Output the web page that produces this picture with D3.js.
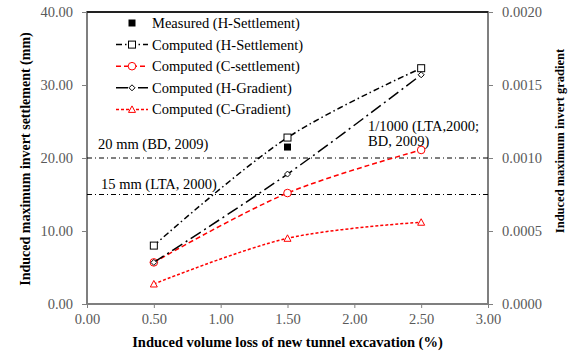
<!DOCTYPE html>
<html>
  <head>
    <meta charset="utf-8">
    <title>Invert settlement vs volume loss</title>
    <script src="https://cdn.jsdelivr.net/npm/d3@7"></script>
    <style>
      body { margin: 0; background: #fff; }
      text { font-family: "Liberation Serif", "Times New Roman", serif; }
      .tick text { fill: #595959; font-size: 14.5px; }
      .axisTitle { font-weight: bold; font-size: 14.5px; fill: #000; }
      .note { font-size: 14.5px; fill: #000; }
      .legendText { font-size: 14.5px; fill: #000; }
    </style>
  </head>
  <body>
    <svg id="chart" width="573" height="354"></svg>
    <script>
      // data
      volumeLoss = [0.5, 1.5, 2.5];
      measuredH = [[1.5, 21.5]];
      computedHSettlement = [8.0, 22.8, 32.3];
      computedCSettlement = [5.7, 15.2, 21.1];
      computedHGradient = [0.000285, 0.00089, 0.00157];
      computedCGradient = [0.000137, 0.00045, 0.00056];
      xTicks = [0, 0.5, 1, 1.5, 2, 2.5, 3];
      yTicks = [0, 10, 20, 30, 40];
      y2Ticks = [0, 0.0005, 0.001, 0.0015, 0.002];
      limits = [
        { value: 20, label: "20 mm (BD, 2009)" },
        { value: 15, label: "15 mm (LTA, 2000)" }
      ];

      svg = d3.select("#chart");
      margin = { top: 12, right: 85, bottom: 50, left: 87 };
      width = 573 - margin.left - margin.right;
      height = 354 - margin.top - margin.bottom;

      x = d3.scaleLinear().domain([0, 3]).range([margin.left, margin.left + width]);
      y = d3.scaleLinear().domain([0, 40]).range([margin.top + height, margin.top]);
      y2 = d3.scaleLinear().domain([0, 0.002]).range([margin.top + height, margin.top]);

      // axes
      xAxis = svg.append("g")
        .attr("transform", "translate(0," + (margin.top + height) + ")")
        .call(d3.axisBottom(x).tickValues(xTicks).tickFormat(d3.format(".2f")).tickSize(4).tickPadding(6));
      yAxis = svg.append("g")
        .attr("transform", "translate(" + margin.left + ",0)")
        .call(d3.axisLeft(y).tickValues(yTicks).tickFormat(d3.format(".2f")).tickSize(5).tickPadding(9));
      y2Axis = svg.append("g")
        .attr("transform", "translate(" + (margin.left + width) + ",0)")
        .call(d3.axisRight(y2).tickValues(y2Ticks).tickFormat(d3.format(".4f")).tickSize(5).tickPadding(9));
      svg.selectAll(".domain").remove();
      svg.selectAll(".tick line").attr("stroke", "#808080");

      // frame
      svg.append("rect")
        .attr("x", margin.left).attr("y", margin.top)
        .attr("width", width).attr("height", height)
        .attr("fill", "none").attr("stroke", "#7f7f7f").attr("stroke-width", 2);
      svg.append("line")
        .attr("x1", margin.left).attr("x2", margin.left + width)
        .attr("y1", margin.top).attr("y2", margin.top)
        .attr("stroke", "#222").attr("stroke-width", 2);

      // limit lines
      limits.forEach(function(d) {
        svg.append("line")
          .attr("x1", margin.left).attr("x2", margin.left + width)
          .attr("y1", y(d.value)).attr("y2", y(d.value))
          .attr("stroke", "#000").attr("stroke-width", 1)
          .attr("stroke-dasharray", "5,3,1,3");
      });
      svg.append("text").attr("class", "note").attr("x", 98).attr("y", y(20) - 9).text(limits[0].label);
      svg.append("text").attr("class", "note").attr("x", 101).attr("y", y(15) - 6).text(limits[1].label);
      svg.append("text").attr("class", "note").attr("x", 368).attr("y", 131).text("1/1000 (LTA,2000;");
      svg.append("text").attr("class", "note").attr("x", 368).attr("y", 146).text("BD, 2009)");

      // series
      series = [
        { name: "Measured (H-Settlement)", values: measuredH, color: "#000", dash: null, noLine: true, marker: "filledSquare" },
        { name: "Computed (H-Settlement)", values: computedHSettlement.map(function(v, i) { return [volumeLoss[i], v]; }), color: "#000", dash: "6,3,1.5,3", marker: "square" },
        { name: "Computed (C-settlement)", values: computedCSettlement.map(function(v, i) { return [volumeLoss[i], v]; }), color: "#ff0000", dash: "5,3", marker: "circle" },
        { name: "Computed (H-Gradient)", values: computedHGradient.map(function(v, i) { return [volumeLoss[i], v]; }), color: "#000", dash: "12,4,2,4", marker: "diamond", right: true },
        { name: "Computed (C-Gradient)", values: computedCGradient.map(function(v, i) { return [volumeLoss[i], v]; }), color: "#ff0000", dash: "3,2", marker: "triangle", right: true }
      ];

      line = d3.line().curve(d3.curveCatmullRom.alpha(0.5));

      function drawMarker(g, type, cx, cy, color) {
        if (type == "filledSquare") {
          g.append("rect").attr("x", cx - 3.5).attr("y", cy - 3.5).attr("width", 7).attr("height", 7).attr("fill", "#000");
        } else if (type == "square") {
          g.append("rect").attr("x", cx - 3.5).attr("y", cy - 3.5).attr("width", 7).attr("height", 7)
            .attr("fill", "#fff").attr("stroke", color).attr("stroke-width", 1);
        } else if (type == "circle") {
          g.append("circle").attr("cx", cx).attr("cy", cy).attr("r", 3.8)
            .attr("fill", "#fff").attr("stroke", color).attr("stroke-width", 1);
        } else if (type == "diamond") {
          g.append("path").attr("d", "M" + cx + "," + (cy - 3) + "L" + (cx + 3) + "," + cy + "L" + cx + "," + (cy + 3) + "L" + (cx - 3) + "," + cy + "Z")
            .attr("fill", "#fff").attr("stroke", color).attr("stroke-width", 1);
        } else if (type == "triangle") {
          g.append("path").attr("d", "M" + cx + "," + (cy - 3.5) + "L" + (cx + 3.5) + "," + (cy + 3) + "L" + (cx - 3.5) + "," + (cy + 3) + "Z")
            .attr("fill", "#fff").attr("stroke", color).attr("stroke-width", 1);
        }
      }

      series.forEach(function(s) {
        yScale = s.right ? y2 : y;
        pts = s.values.map(function(d) { return [x(d[0]), yScale(d[1])]; });
        g = svg.append("g");
        if (!s.noLine) {
          g.append("path")
            .attr("d", line(pts))
            .attr("fill", "none")
            .attr("stroke", s.color)
            .attr("stroke-width", 1.5)
            .attr("stroke-dasharray", s.dash);
        }
        pts.forEach(function(p) { drawMarker(g, s.marker, p[0], p[1], s.color); });
      });

      // legend
      legend = svg.append("g");
      series.forEach(function(s, i) {
        ly = 23 + i * 21.6;
        lg = legend.append("g");
        if (!s.noLine) {
          lg.append("line").attr("x1", 116).attr("x2", 148).attr("y1", ly).attr("y2", ly)
            .attr("stroke", s.color).attr("stroke-width", 1.5).attr("stroke-dasharray", s.dash);
        }
        drawMarker(lg, s.marker, 132, ly, s.color);
        lg.append("text").attr("class", "legendText").attr("x", 152).attr("y", ly + 5).text(s.name);
      });

      // axis titles
      svg.append("text").attr("class", "axisTitle")
        .attr("x", x(1.5)).attr("y", 347).attr("text-anchor", "middle")
        .text("Induced volume loss of new tunnel excavation (%)");
      svg.append("text").attr("class", "axisTitle")
        .attr("transform", "translate(30,159) rotate(-90)")
        .attr("text-anchor", "middle")
        .style("font-size", "14px")
        .text("Induced maximum invert settlement (mm)");
      svg.append("text").attr("class", "axisTitle")
        .attr("transform", "translate(564,141) rotate(-90)")
        .attr("text-anchor", "middle")
        .style("font-size", "12.5px")
        .text("Induced maximum invert gradient");
    </script>
  </body>
</html>
